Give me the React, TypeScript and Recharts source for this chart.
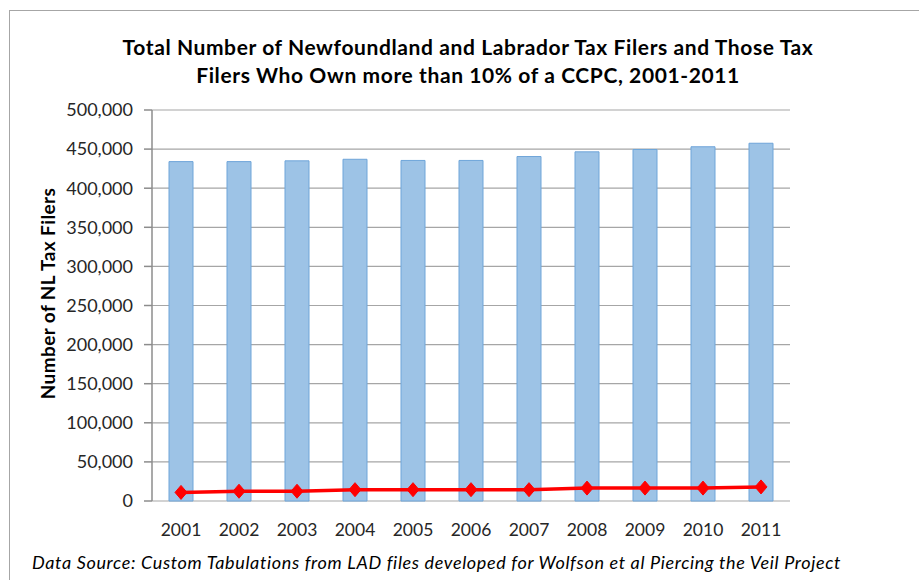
import React from "react";
import {
  ComposedChart,
  Bar,
  Line,
  XAxis,
  YAxis,
  CartesianGrid,
  Label,
} from "recharts";

const years = ["2001", "2002", "2003", "2004", "2005", "2006", "2007", "2008", "2009", "2010", "2011"];
const totalFilers = [434000, 434000, 435000, 437000, 435500, 435500, 440500, 446500, 449500, 453000, 457500];
const ccpcOwners = [11000, 12500, 12500, 14500, 14500, 14500, 14500, 16500, 16500, 16500, 18000];
const yTicks = [0, 50000, 100000, 150000, 200000, 250000, 300000, 350000, 400000, 450000, 500000];
const edgeTicks = [0, 1, 2, 3, 4, 5, 6, 7, 8, 9, 10, 11];

const data = years.map((year, i) => ({
  year,
  total: totalFilers[i],
  owners: ccpcOwners[i],
}));

const FONT = "Lato, 'Open Sans', sans-serif";

function Diamond(props: any) {
  const { cx, cy } = props;
  if (cx == null || cy == null) return null;
  return (
    <polygon
      points={`${cx},${cy - 7} ${cx + 6},${cy} ${cx},${cy + 7} ${cx - 6},${cy}`}
      fill="#ff0000"
      stroke="#ff0000"
    />
  );
}

export default function App() {
  return (
    <div
      style={{
        position: "fixed",
        left: 0,
        top: 0,
        width: 919,
        height: 580,
        overflow: "hidden",
        background: "#fff",
        fontFamily: FONT,
      }}
    >
      <div
        style={{
          position: "absolute",
          left: 9,
          top: 10,
          width: 940,
          height: 600,
          border: "1px solid #a6a6a6",
        }}
      />
      <div
        style={{
          position: "absolute",
          left: 18,
          width: 900,
          top: 33,
          textAlign: "center",
          fontWeight: 700,
          fontSize: 21,
          letterSpacing: 0.6,
          lineHeight: "28px",
          color: "#000",
        }}
      >
        Total Number of Newfoundland and Labrador Tax Filers and Those Tax
        <br />
        Filers Who Own more than 10% of a CCPC, 2001-2011
      </div>
      <div style={{ position: "absolute", left: 0, top: 0 }}>
        <ComposedChart
          width={919}
          height={580}
          data={data}
          margin={{ top: 110, right: 129, bottom: 49, left: 40 }}
        >
          <CartesianGrid vertical={false} stroke="#a6a6a6" strokeWidth={1.2} />
          <XAxis
            xAxisId="edges"
            type="number"
            domain={[0, 11]}
            ticks={edgeTicks}
            tick={() => <g />}
            height={0}
            axisLine={{ stroke: "#8c8c8c", strokeWidth: 1.5 }}
            tickLine={{ stroke: "#8c8c8c", strokeWidth: 1.5 }}
            tickSize={6}
          />
          <XAxis
            xAxisId="cat"
            dataKey="year"
            height={30}
            axisLine={false}
            tickLine={false}
            tick={{ fill: "#262626", fontSize: 17.5, fontFamily: FONT }}
            tickMargin={17}
          />
          <YAxis
            width={112}
            domain={[0, 500000]}
            ticks={yTicks}
            interval={0}
            tickFormatter={(v: number) => v.toLocaleString("en-US")}
            tick={{ fill: "#262626", fontSize: 18, fontFamily: FONT }}
            axisLine={{ stroke: "#8c8c8c", strokeWidth: 1.5 }}
            tickLine={{ stroke: "#8c8c8c", strokeWidth: 1.5 }}
            tickSize={8}
            tickMargin={11}
          >
            <Label
              content={({ viewBox }: any) => {
                const x = viewBox.x + 7;
                const y = viewBox.y + viewBox.height / 2 - 12;
                return (
                  <text
                    x={x}
                    y={y}
                    transform={`rotate(-90, ${x}, ${y})`}
                    textAnchor="middle"
                    dominantBaseline="central"
                    fontFamily={FONT}
                    fontWeight={700}
                    fontSize={19}
                    letterSpacing={0.4}
                    fill="#000"
                  >
                    Number of NL Tax Filers
                  </text>
                );
              }}
            />
          </YAxis>
          <Bar
            xAxisId="cat"
            dataKey="total"
            fill="#9dc3e6"
            stroke="#6fa5d9"
            strokeWidth={1}
            barSize={24}
            isAnimationActive={false}
          />
          <Line
            xAxisId="cat"
            dataKey="owners"
            stroke="#ff0000"
            strokeWidth={3.5}
            dot={<Diamond />}
            activeDot={false}
            isAnimationActive={false}
          />
        </ComposedChart>
      </div>
      <div
        style={{
          position: "absolute",
          left: 32,
          top: 551,
          fontStyle: "italic",
          fontSize: 18,
          letterSpacing: 0.65,
          color: "#000",
          whiteSpace: "nowrap",
        }}
      >
        Data Source: Custom Tabulations from LAD files developed for Wolfson et al Piercing the Veil Project
      </div>
    </div>
  );
}
